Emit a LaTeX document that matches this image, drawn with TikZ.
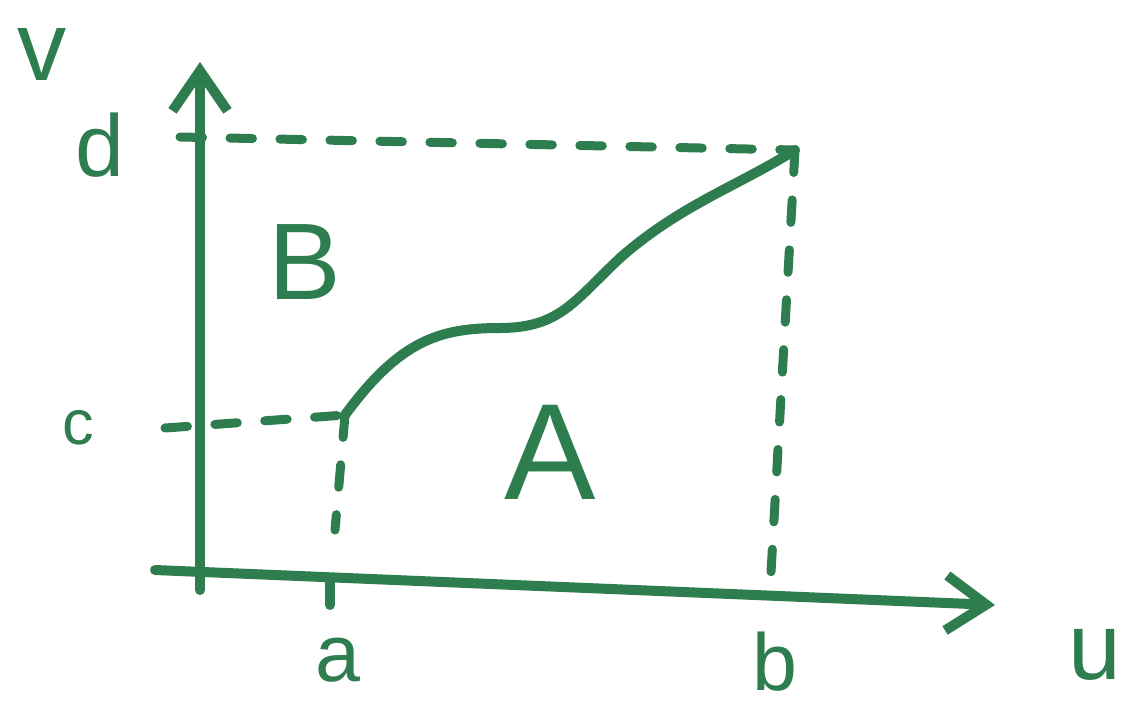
\documentclass[tikz,border=0pt]{standalone}
\usepackage{fontspec}
\setmainfont{Liberation Sans}
\usepackage{xcolor}
\usepackage{tikz}
\usetikzlibrary{arrows.meta}
\definecolor{PGreen}{HTML}{2E7D4F}

\begin{document}
\begin{tikzpicture}[x=0.02cm, y=-0.02cm,
  pen/.style={draw=PGreen, line width=0.2cm, line cap=round, line join=round},
  guide/.style={pen, line width=0.18cm, dash pattern=on 0.45cm off 0.55cm},
  axis/.style={pen, -{Straight Barb[length=0.8cm, width=1.1cm]}},
  lbl/.style={text=PGreen, inner sep=0pt}]
\useasboundingbox (0,0) rectangle (1142,707);
% axes
\coordinate (ybot) at (200,590);
\coordinate (ytop) at (200,62);
\coordinate (xbeg) at (155,570);
\coordinate (xend) at (995,605);
\draw[axis] (ybot) -- (ytop);
\draw[axis] (xbeg) -- (xend);
% curve from (a,c) to (b,d)
\coordinate (pc) at (345,415);
\coordinate (pd) at (795,150);
\draw[pen] (pc) .. controls (400,340) and (440,328) .. (500,328)
  .. controls (560,328) and (575,300) .. (620,258)
  .. controls (680,205) and (740,185) .. (pd);
% guides
\coordinate (dd) at (180,137);
\coordinate (cc) at (165,428);
\coordinate (pa) at (335,530);
\coordinate (pb) at (770,590);
\coordinate (ta) at (330,605);
\draw[guide] (dd) -- (pd);
\draw[guide] (pd) -- (pb);
\draw[guide] (cc) -- (pc);
\draw[guide] (pc) -- (pa);
\draw[pen] (330,582) -- (ta);
% labels
\node[lbl, font=\fontsize{56}{56}\selectfont] (v) at (42,55) {v};
\node[lbl, font=\fontsize{50}{50}\selectfont] (d) at (100,145) {d};
\node[lbl, font=\fontsize{36}{36}\selectfont] (c) at (78,428) {c};
\node[lbl, font=\fontsize{46}{46}\selectfont] (a) at (338,660) {a};
\node[lbl, font=\fontsize{46}{46}\selectfont] (b) at (775,662) {b};
\node[lbl, font=\fontsize{54}{54}\selectfont] (u) at (1095,655) {u};
\node[lbl, font=\fontsize{62}{62}\selectfont] (B) at (305,262) {B};
\node[lbl, font=\fontsize{78}{78}\selectfont] (A) at (550,452) {A};
\end{tikzpicture}
\end{document}
